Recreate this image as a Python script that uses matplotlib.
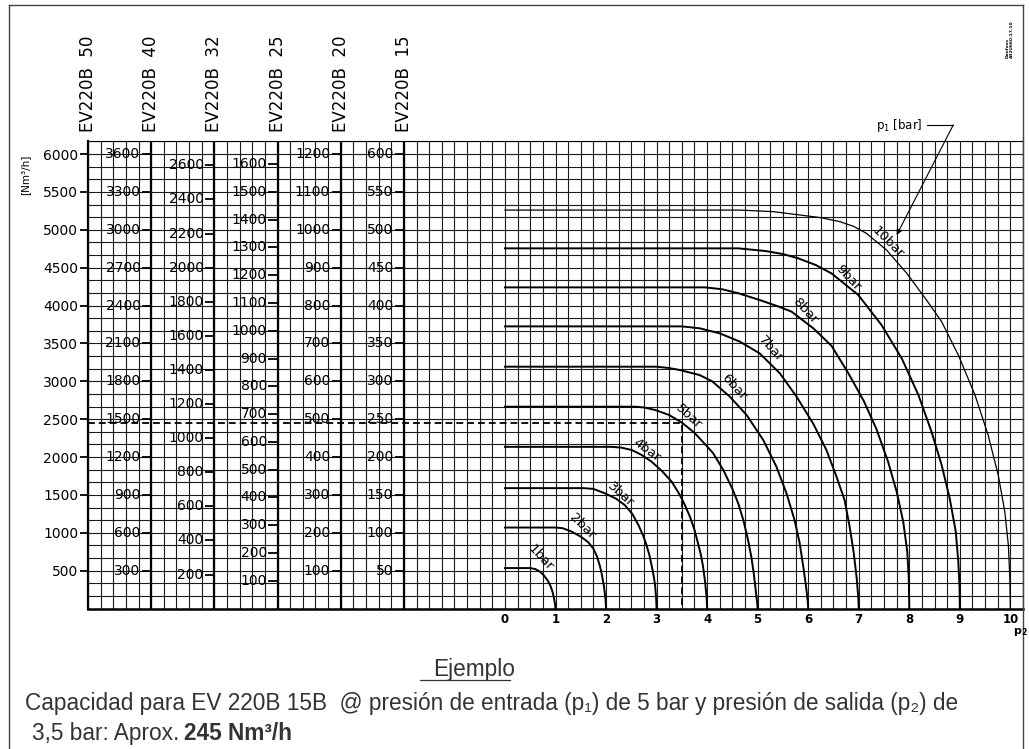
import numpy as np
import matplotlib
matplotlib.use("Agg")
import matplotlib.pyplot as plt
from matplotlib.lines import Line2D
from matplotlib.transforms import blended_transform_factory

# flow curves: outlet pressure p2 [bar] -> flow [Nm3/h] (EV220B 50 scale)
p2_1bar = [0, 0.50, 0.60, 0.70, 0.78, 0.85, 0.90, 0.94, 0.97, 0.99, 1.00]
q_1bar = [535, 535, 522, 485, 430, 365, 300, 225, 140, 60, 0]
p2_2bar = [0, 1.02, 1.15, 1.32, 1.50, 1.65, 1.75, 1.82, 1.88, 1.92, 1.96, 1.99, 2.00]
q_2bar = [1070, 1070, 1060, 1015, 950, 875, 790, 690, 560, 440, 290, 120, 0]
p2_3bar = [0, 1.55, 1.75, 1.98, 2.20, 2.37, 2.52, 2.64, 2.73, 2.80, 2.86, 2.90, 2.94, 2.97, 2.99, 3.00]
q_3bar = [1590, 1590, 1580, 1521, 1450, 1367, 1250, 1104, 970, 840, 700, 575, 440, 312, 150, 0]
p2_4bar = [0, 2.11, 2.30, 2.51, 2.70, 2.90, 3.10, 3.30, 3.46, 3.56, 3.66, 3.75, 3.82, 3.88, 3.92, 3.96, 3.99, 4.00]
q_4bar = [2135, 2135, 2125, 2093, 2030, 1940, 1820, 1675, 1500, 1367, 1213, 1040, 861, 700, 553, 350, 150, 0]
p2_5bar = [0, 2.57, 2.75, 2.97, 3.25, 3.50, 3.75, 4.00, 4.12, 4.32, 4.51, 4.62, 4.72, 4.81, 4.87, 4.92, 4.96, 4.99, 5.00]
q_5bar = [2665, 2665, 2655, 2622, 2555, 2455, 2320, 2140, 2050, 1830, 1565, 1380, 1160, 905, 700, 480, 250, 80, 0]
p2_6bar = [0, 3.00, 3.25, 3.46, 3.85, 4.10, 4.45, 4.78, 5.11, 5.37, 5.57, 5.73, 5.83, 5.91, 5.96, 5.99, 6.00]
q_6bar = [3193, 3193, 3175, 3149, 3083, 3000, 2797, 2556, 2226, 1874, 1522, 1169, 870, 520, 280, 100, 0]
p2_7bar = [0, 3.50, 3.85, 4.25, 4.65, 5.04, 5.44, 5.77, 6.10, 6.36, 6.56, 6.72, 6.82, 6.90, 6.96, 6.99, 7.00]
q_7bar = [3725, 3725, 3700, 3633, 3523, 3369, 3105, 2797, 2440, 2094, 1742, 1433, 1081, 740, 400, 150, 0]
p2_8bar = [0, 3.96, 4.30, 4.62, 5.04, 5.40, 5.67, 6.10, 6.46, 6.80, 7.10, 7.35, 7.58, 7.75, 7.88, 7.96, 7.99, 8.00]
q_8bar = [4240, 4240, 4215, 4162, 4073, 3990, 3920, 3700, 3470, 3100, 2740, 2370, 1940, 1544, 1148, 752, 400, 0]
p2_9bar = [0, 4.62, 5.15, 5.50, 5.80, 6.15, 6.46, 6.99, 7.45, 7.85, 8.18, 8.44, 8.64, 8.80, 8.92, 8.97, 8.995, 9.00]
q_9bar = [4755, 4755, 4720, 4680, 4624, 4535, 4425, 4140, 3744, 3304, 2820, 2335, 1896, 1455, 1015, 620, 280, 0]
p2_10bar = [0, 4.65, 5.30, 5.84, 6.25, 6.63, 6.90, 7.15, 7.55, 7.95, 8.34, 8.64, 8.97, 9.30, 9.56, 9.76, 9.89, 9.96, 9.99, 10.00]
q_10bar = [5260, 5260, 5240, 5195, 5160, 5107, 5045, 4954, 4733, 4426, 4074, 3787, 3347, 2820, 2291, 1763, 1279, 839, 400, 0]

curve_names = ["1bar", "2bar", "3bar", "4bar", "5bar", "6bar", "7bar", "8bar", "9bar", "10bar"]

# secondary scales for the smaller valves
scale_40 = list(range(300, 3601, 300))
scale_32 = list(range(200, 2601, 200))
scale_25 = list(range(100, 1601, 100))
scale_20 = list(range(100, 1201, 100))
scale_15 = list(range(50, 601, 50))
main_ticks = list(range(500, 6001, 500))
valve_headers = ["EV220B  50", "EV220B  40", "EV220B  32", "EV220B  25", "EV220B  20", "EV220B  15"]

# example reading
example_p2 = 3.5
example_q = 2450

plt.rcParams['font.family'] = ['DejaVu Sans']

fig = plt.figure(figsize=(10.29, 7.49), dpi=100)
W, H = 1029.0, 749.0
ax = fig.add_axes([88 / W, (H - 608.6) / H, 935 / W, 467.2 / H])

xmin, xmax = -8.25, 10.25
ymax = 6000 + 500 / 3
ax.set_xlim(xmin, xmax)
ax.set_ylim(0, ymax)

# fine grid
ax.vlines(np.arange(xmin, xmax + 0.01, 0.25), 0, ymax, color='#1a1a1a', lw=0.8, zorder=1)
ax.hlines(np.arange(0, ymax + 1, 500 / 3), xmin, xmax, color='#1a1a1a', lw=0.8, zorder=1)

# column separators
col_edges = [-8.25, -7.0, -5.75, -4.5, -3.25, -2.0]
ax.vlines(col_edges[1:], 0, ymax, color='k', lw=1.6, zorder=2)

for s in ['top', 'right']:
    ax.spines[s].set_linewidth(0.8)
ax.spines['left'].set_linewidth(1.6)
ax.spines['bottom'].set_linewidth(1.8)

ax.set_yticks(main_ticks)
ax.set_yticklabels([str(v) for v in main_ticks])
ax.tick_params(axis='y', direction='out', length=5.8, width=1.3, pad=1.2, labelsize=10)
ax.set_xticks(range(0, 11))
ax.set_xticklabels([str(v) for v in range(0, 11)], fontweight='bold', fontsize=8.5)
ax.tick_params(axis='x', length=0, pad=3.5)

# secondary scales
scales = [(scale_40, 1 / 0.6), (scale_32, 2.25), (scale_25, 11 / 3), (scale_20, 5.0), (scale_15, 10.0)]
for edge, (vals, factor) in zip(col_edges[1:], scales):
    for v in vals:
        y = v * factor
        ax.plot([edge - 0.18, edge], [y, y], color='k', lw=1.3, zorder=3, solid_capstyle='butt')
        ax.text(edge - 0.21, y, str(v), ha='right', va='center', fontsize=10, zorder=4)

# headers
tr = blended_transform_factory(ax.transData, ax.transAxes)
for edge, name in zip(col_edges, valve_headers):
    ax.text(edge, 1.0208, name, transform=tr, rotation=90, ha='center', va='bottom',
            fontsize=12)

# curves
curves = [(p2_1bar, q_1bar), (p2_2bar, q_2bar), (p2_3bar, q_3bar), (p2_4bar, q_4bar),
          (p2_5bar, q_5bar), (p2_6bar, q_6bar), (p2_7bar, q_7bar), (p2_8bar, q_8bar),
          (p2_9bar, q_9bar), (p2_10bar, q_10bar)]
for i, (xs, ys) in enumerate(curves):
    ax.plot(xs, ys, color='k', lw=0.9 if i == 9 else 1.4, zorder=5, solid_joinstyle='round')

label_pos = [(0.70, 670, -47), (1.53, 1085, -45), (2.30, 1505, -42), (2.81, 2090, -36),
             (3.63, 2530, -42), (4.53, 2925, -48), (5.26, 3425, -48), (5.94, 3935, -47),
             (6.79, 4370, -47), (7.58, 4840, -45)]
for name, (lx, ly, rot) in zip(curve_names, label_pos):
    ax.text(lx, ly, name, rotation=rot, ha='center', va='center', fontsize=9.5,
            rotation_mode='anchor', zorder=6)

# example dashed lines
ax.plot([xmin, example_p2, example_p2], [example_q, example_q, 0], color='k', lw=1.3,
        ls=(0, (3.8, 2.2)), zorder=6)

# p1 annotation
ax.text(7.81, 6383, r'p$_1$ [bar]', ha='center', va='center', fontsize=8.5)
ax.plot([8.35, 8.87], [6383, 6383], color='k', lw=0.8, clip_on=False)
ax.annotate('', xy=(7.75, 4931), xytext=(8.87, 6383), annotation_clip=False,
            arrowprops=dict(arrowstyle='-|>', lw=0.8, color='k', mutation_scale=8,
                            shrinkA=0, shrinkB=0))

# axis labels
fig.text(25 / W, 1 - 175 / H, '[Nm³/h]', rotation=90, ha='center', va='center', fontsize=7.5)
fig.text(1020 / W, 1 - 632 / H, r'$\mathbf{p_2}$', ha='center', va='center', fontsize=8)
fig.text(1008 / W, 1 - 58 / H, 'Danfoss', rotation=90, ha='center', va='bottom',
         fontsize=3.2, fontweight='bold')
fig.text(1012 / W, 1 - 58 / H, 'A32U660.17.10', rotation=90, ha='center', va='bottom',
         fontsize=3.2, fontweight='bold')

# frame
fc = '#444444'
fig.add_artist(Line2D([9 / W, 9 / W], [0, 1 - 5 / H], color=fc, lw=1))
fig.add_artist(Line2D([9 / W, 1023 / W], [1 - 5 / H, 1 - 5 / H], color=fc, lw=1))
fig.add_artist(Line2D([1023 / W, 1023 / W], [0, 1 - 5 / H], color=fc, lw=1))

# example text
tfam = ['Liberation Sans', 'DejaVu Sans']
tcol = '#333333'
fs = 16.3
fig.text(433 / W, 1 - 676 / H, 'Ejemplo', family=tfam, color=tcol, fontsize=fs, va='baseline')
fig.add_artist(Line2D([420 / W, 510 / W], [1 - 679.5 / H, 1 - 679.5 / H], color=tcol, lw=0.9))
fig.text(25 / W, 1 - 710 / H,
         'Capacidad para EV 220B 15B  @ presión de entrada (p\u2081) de 5 bar y presión de salida (p\u2082) de',
         family=tfam, color=tcol, fontsize=fs, va='baseline')
fig.text(32 / W, 1 - 740 / H, '3,5 bar: Aprox.', family=tfam, color=tcol, fontsize=fs,
         va='baseline')
fig.text(184 / W, 1 - 740 / H, '245 Nm³/h', family=tfam, color=tcol, fontsize=fs,
         va='baseline', fontweight='bold')

fig.savefig('out.png', dpi=100)
